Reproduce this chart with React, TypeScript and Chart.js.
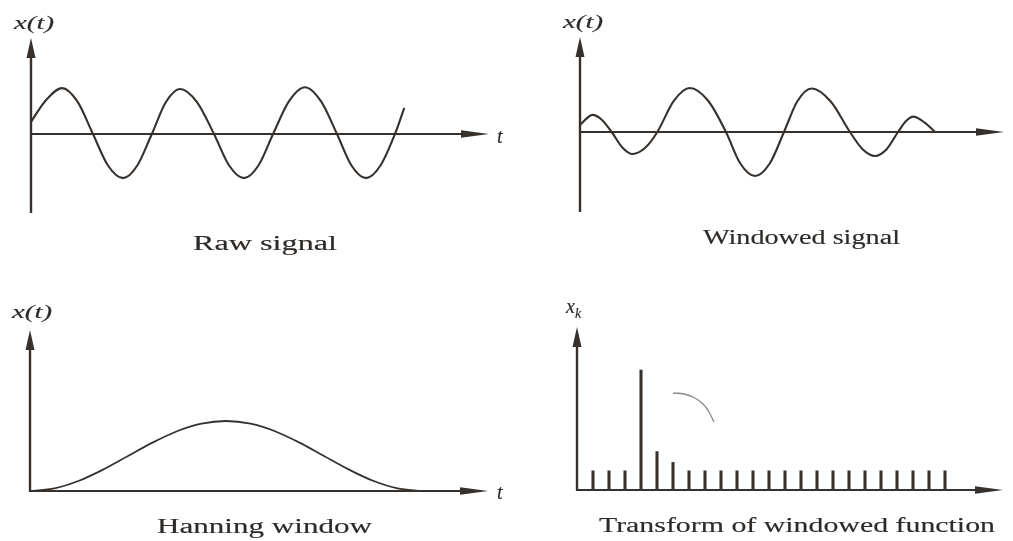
import React, { useEffect, useRef } from "react";
import { Chart, registerables } from "chart.js";

Chart.register(...registerables);

const INK = "#36312d";

// ---- Raw signal (time in periods, amplitude) ----
const rawT = [0, 0.12, 0.257, 0.385, 0.513, 0.637, 0.762, 0.88, 1.0, 1.117, 1.233, 1.374, 1.515, 1.64, 1.763, 1.883, 2.004, 2.136, 2.268, 2.4, 2.533, 2.653, 2.773, 2.893, 3.013, 3.09];
const rawX = [0.27, 0.74, 1.02, 0.72, 0.0, -0.7, -0.98, -0.7, 0.0, 0.71, 1.0, 0.71, 0.0, -0.7, -0.98, -0.7, 0.0, 0.73, 1.04, 0.73, 0.0, -0.7, -0.98, -0.7, 0.0, 0.58];

// ---- Windowed signal ----
const winT = [0, 0.11, 0.19, 0.277, 0.37, 0.46, 0.57, 0.676, 0.82, 0.96, 1.12, 1.276, 1.4, 1.53, 1.66, 1.783, 1.9, 2.025, 2.19, 2.36, 2.47, 2.579, 2.68, 2.78, 2.85, 2.914, 3.01, 3.103];
const winX = [0.16, 0.39, 0.28, 0.0, -0.35, -0.5, -0.36, 0.0, 0.71, 1.0, 0.71, 0.0, -0.71, -1.0, -0.71, 0.0, 0.7, 0.99, 0.7, 0.0, -0.39, -0.545, -0.39, 0.0, 0.25, 0.35, 0.22, 0.0];

// ---- Hanning window ----
const hanT = [0, 0.0625, 0.125, 0.1875, 0.25, 0.3125, 0.375, 0.4375, 0.5, 0.5625, 0.625, 0.6875, 0.75, 0.8125, 0.875, 0.9375, 1.0];
const hanX = [0, 0.038, 0.146, 0.309, 0.5, 0.691, 0.854, 0.962, 1.0, 0.962, 0.854, 0.691, 0.5, 0.309, 0.146, 0.038, 0];

// ---- Transform of windowed function ----
const binK = [1, 2, 3, 4, 5, 6, 7, 8, 9, 10, 11, 12, 13, 14, 15, 16, 17, 18, 19, 20, 21, 22, 23];
const binMag = [0.16, 0.16, 0.16, 1.0, 0.32, 0.23, 0.16, 0.16, 0.16, 0.16, 0.16, 0.16, 0.16, 0.16, 0.16, 0.16, 0.16, 0.16, 0.16, 0.16, 0.16, 0.16, 0.16];

// stray pen mark in the spectrum panel
const markK = [6.0, 6.69, 7.31, 7.88, 8.25, 8.56];
const markY = [0.808, 0.8, 0.771, 0.717, 0.65, 0.567];

const PAD = 14;

type Box = { left: number; top: number; right: number; bottom: number; originY: number; pxX: number; pxY: number };

const boxes: Record<string, Box> = {
  raw: { left: 31, top: 38, right: 489, bottom: 213, originY: 134, pxX: 120.8, pxY: 45 },
  win: { left: 580, top: 37, right: 1004, bottom: 212, originY: 132, pxX: 114.4, pxY: 44 },
  han: { left: 30, top: 330, right: 488, bottom: 491, originY: 491, pxX: 392, pxY: 70 },
  fft: { left: 577, top: 327, right: 1003, bottom: 490, originY: 490, pxX: 16, pxY: 120 },
};

const axisArrows = {
  id: "axisArrows",
  beforeDatasetsDraw(chart: any) {
    const { ctx, chartArea: a, scales } = chart;
    const x0 = scales.x.getPixelForValue(0);
    const y0 = scales.y.getPixelForValue(0);
    ctx.save();
    ctx.strokeStyle = INK;
    ctx.fillStyle = INK;
    ctx.lineWidth = 2.4;
    ctx.lineCap = "butt";
    // vertical axis
    ctx.beginPath();
    ctx.moveTo(x0, a.bottom);
    ctx.lineTo(x0, a.top + 14);
    ctx.stroke();
    ctx.beginPath();
    ctx.moveTo(x0, a.top);
    ctx.lineTo(x0 - 4.5, a.top + 20);
    ctx.lineTo(x0 + 4.5, a.top + 20);
    ctx.closePath();
    ctx.fill();
    // horizontal axis
    ctx.lineWidth = 2;
    ctx.beginPath();
    ctx.moveTo(x0 - 1, y0);
    ctx.lineTo(a.right - 20, y0);
    ctx.stroke();
    ctx.beginPath();
    ctx.moveTo(a.right, y0);
    ctx.lineTo(a.right - 28, y0 - 3.8);
    ctx.lineTo(a.right - 28, y0 + 3.8);
    ctx.closePath();
    ctx.fill();
    ctx.restore();
  },
};

function scaleRange(b: Box) {
  return {
    x: { type: "linear" as const, display: false, offset: false, min: 0, max: (b.right - b.left) / b.pxX },
    y: { type: "linear" as const, display: false, min: -(b.bottom - b.originY) / b.pxY, max: (b.originY - b.top) / b.pxY },
  };
}

function pts(xs: number[], ys: number[]) {
  return xs.map((x, i) => ({ x, y: ys[i] }));
}

function makeConfig(key: string): any {
  const b = boxes[key];
  const base: any = {
    options: {
      responsive: false,
      animation: false,
      devicePixelRatio: 1,
      events: [],
      layout: { padding: PAD },
      plugins: { legend: { display: false }, tooltip: { enabled: false }, title: { display: false } },
      scales: scaleRange(b),
      elements: { point: { radius: 0 } },
    },
    plugins: [axisArrows],
  };
  const lineStyle = {
    borderColor: INK,
    borderWidth: 2.1,
    pointRadius: 0,
    fill: false,
    cubicInterpolationMode: "monotone",
    clip: false,
  };
  if (key === "raw") {
    base.type = "line";
    base.data = { datasets: [{ label: "Raw signal", data: pts(rawT, rawX), ...lineStyle }] };
  } else if (key === "win") {
    base.type = "line";
    base.data = { datasets: [{ label: "Windowed signal", data: pts(winT, winX), ...lineStyle }] };
  } else if (key === "han") {
    base.type = "line";
    base.data = { datasets: [{ label: "Hanning window", data: pts(hanT, hanX), ...lineStyle, borderWidth: 1.8 }] };
  } else {
    base.type = "bar";
    base.data = {
      datasets: [
        {
          type: "bar",
          label: "Transform of windowed function",
          data: pts(binK, binMag),
          backgroundColor: INK,
          borderWidth: 0,
          barThickness: 2.4,
          grouped: false,
        },
        {
          type: "line",
          label: "mark",
          data: pts(markK, markY),
          borderColor: "#8c8884",
          borderWidth: 1.3,
          pointRadius: 0,
          tension: 0.4,
          clip: false,
        },
      ],
    };
  }
  return base;
}

function Panel({ k }: { k: string }) {
  const ref = useRef<HTMLCanvasElement | null>(null);
  const b = boxes[k];
  const w = b.right - b.left + PAD * 2;
  const h = b.bottom - b.top + PAD * 2;
  useEffect(() => {
    if (!ref.current) return;
    const chart = new Chart(ref.current, makeConfig(k));
    return () => chart.destroy();
  }, [k]);
  return (
    <canvas
      ref={ref}
      width={w}
      height={h}
      style={{ position: "absolute", left: b.left - PAD, top: b.top - PAD, width: w, height: h }}
    />
  );
}

const serif = "'Liberation Serif', 'DejaVu Serif', serif";
const TXT = "#2e2a27";

export default function App() {
  return (
    <div style={{ position: "absolute", left: 0, top: 0, width: 1013, height: 541, background: "#ffffff", overflow: "hidden" }}>
      <Panel k="raw" />
      <Panel k="win" />
      <Panel k="han" />
      <Panel k="fft" />
      <svg
        width={1013}
        height={541}
        style={{ position: "absolute", left: 0, top: 0, pointerEvents: "none" }}
        fontFamily={serif}
        fill={TXT}
        stroke={TXT}
        strokeWidth={0.15}
      >
        {/* axis labels */}
        <text x={14} y={29} fontSize={18} fontStyle="italic" textLength={40} lengthAdjust="spacingAndGlyphs">x(t)</text>
        <text x={497} y={143} fontSize={20} fontStyle="italic">t</text>
        <text x={563} y={28} fontSize={18} fontStyle="italic" textLength={40} lengthAdjust="spacingAndGlyphs">x(t)</text>
        <text x={12} y={318} fontSize={18} fontStyle="italic" textLength={40} lengthAdjust="spacingAndGlyphs">x(t)</text>
        <text x={497} y={499} fontSize={20} fontStyle="italic">t</text>
        <text x={566} y={313} fontSize={20} fontStyle="italic">
          x<tspan fontSize={14} dy={5}>k</tspan>
        </text>
        {/* captions */}
        <text x={193} y={250} fontSize={20} textLength={144} lengthAdjust="spacingAndGlyphs">Raw signal</text>
        <text x={703} y={244} fontSize={20} textLength={197} lengthAdjust="spacingAndGlyphs">Windowed signal</text>
        <text x={157} y={533} fontSize={20} textLength={215} lengthAdjust="spacingAndGlyphs">Hanning window</text>
        <text x={599} y={532} fontSize={21} textLength={396} lengthAdjust="spacingAndGlyphs">Transform of windowed function</text>
      </svg>
    </div>
  );
}
